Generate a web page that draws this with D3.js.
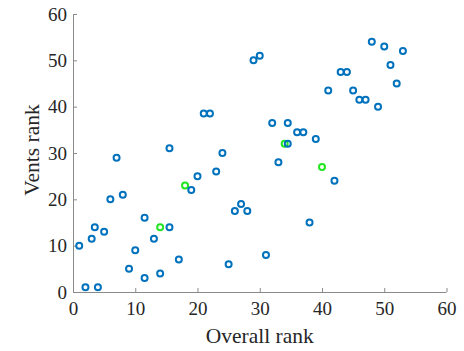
<!DOCTYPE html>
<html>
<head>
<meta charset="utf-8">
<script src="https://cdnjs.cloudflare.com/ajax/libs/d3/7.8.5/d3.min.js"></script>
<style>
  html, body { margin: 0; padding: 0; background: #fff; }
  svg { display: block; font-family: "Liberation Serif", "Times New Roman", serif; }
</style>
</head>
<body>
<div id="chart"></div>
<script>
// blue points: overall rank vs vents rank
const overallRank = [7, 15.5, 24, 20, 23, 19, 6, 8, 11.5, 15.5, 3.5, 5, 3, 1, 13, 10, 17, 9, 14, 11.5, 2, 4,
  25, 26, 27, 28, 21, 22, 29, 30, 48, 50, 53, 51, 52, 43, 44, 41, 45, 46, 47, 49,
  32, 34.5, 36, 37, 39, 34.5, 33, 42, 38, 31];
const ventsRank = [29, 31, 30, 25, 26, 22, 20, 21, 16, 14, 14, 13, 11.5, 10, 11.5, 9, 7, 5, 4, 3, 1, 1,
  6, 17.5, 19, 17.5, 38.5, 38.5, 50, 51, 54, 53, 52, 49, 45, 47.5, 47.5, 43.5, 43.5, 41.5, 41.5, 40,
  36.5, 36.5, 34.5, 34.5, 33, 32, 28, 24, 15, 8];

// highlighted (green) points
const greenOverall = [18, 14, 34, 40];
const greenVents = [23, 14, 32, 27];

const xTicks = [0, 10, 20, 30, 40, 50, 60];
const yTicks = [0, 10, 20, 30, 40, 50, 60];

const W = 464, H = 351;
const plot = { left: 73, right: 446.5, top: 14, bottom: 292 };

const svg = d3.select("#chart").append("svg")
  .attr("width", W).attr("height", H);

const x = d3.scaleLinear().domain([0, 60]).range([plot.left, plot.right]);
const y = d3.scaleLinear().domain([0, 60]).range([plot.bottom, plot.top]);

// x axis (ticks pointing inward)
const gx = svg.append("g")
  .attr("transform", `translate(0,${plot.bottom})`)
  .call(d3.axisBottom(x).tickValues(xTicks).tickSize(-4).tickPadding(10).tickFormat(d3.format("d")));

const gy = svg.append("g")
  .attr("transform", `translate(${plot.left},0)`)
  .call(d3.axisLeft(y).tickValues(yTicks).tickSize(-4).tickPadding(6).tickFormat(d3.format("d")));

[gx, gy].forEach(g => {
  g.select(".domain").attr("stroke", "#8a8a8a").attr("stroke-width", 1);
  g.selectAll(".tick line").attr("stroke", "#8a8a8a");
  g.selectAll("text")
    .attr("fill", "#262626")
    .style("font-family", "Liberation Serif, serif")
    .style("font-size", "19px");
});
gx.select(".domain").attr("d", `M${plot.left},0.5H${plot.right}`);
gy.select(".domain").attr("d", `M0.5,${plot.bottom}V${plot.top}`);

// green first, blue drawn over it
svg.append("g").selectAll("circle")
  .data(greenOverall)
  .enter().append("circle")
  .attr("cx", d => x(d))
  .attr("cy", (d, i) => y(greenVents[i]))
  .attr("r", 3)
  .attr("fill", "none")
  .attr("stroke", "#22e622")
  .attr("stroke-width", 2);

svg.append("g").selectAll("circle")
  .data(overallRank)
  .enter().append("circle")
  .attr("cx", d => x(d))
  .attr("cy", (d, i) => y(ventsRank[i]))
  .attr("r", 3)
  .attr("fill", "none")
  .attr("stroke", "#0072BD")
  .attr("stroke-width", 2);

// axis titles
svg.append("text")
  .attr("x", (plot.left + plot.right) / 2)
  .attr("y", 343)
  .attr("text-anchor", "middle")
  .attr("fill", "#262626")
  .style("font-size", "21.5px")
  .text("Overall rank");

svg.append("text")
  .attr("transform", `translate(39,150) rotate(-90)`)
  .attr("text-anchor", "middle")
  .attr("fill", "#262626")
  .style("font-size", "21.5px")
  .text("Vents rank");
</script>
</body>
</html>
